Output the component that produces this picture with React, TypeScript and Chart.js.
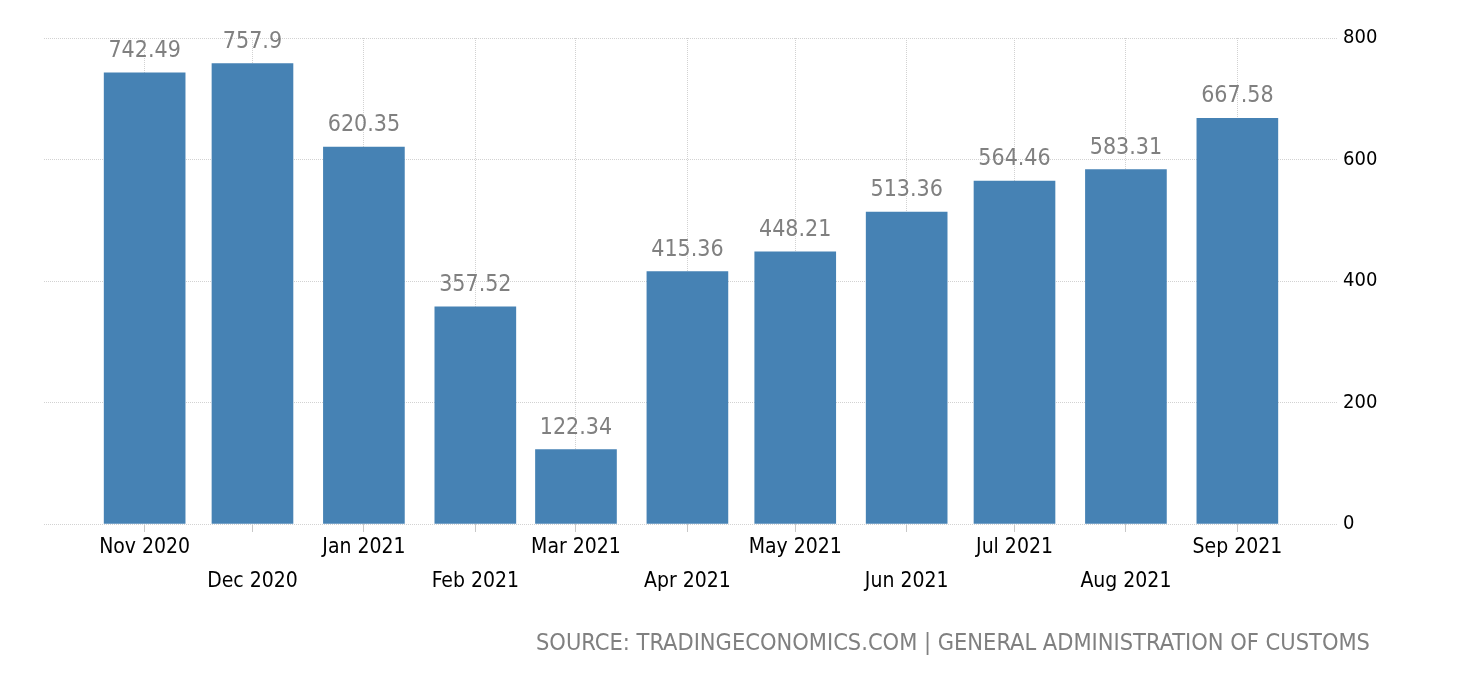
import React, { useEffect, useRef } from "react";
import { Chart, registerables } from "chart.js";

Chart.register(...registerables);

const monthDates = [
  "2020-11-01", "2020-12-01", "2021-01-01", "2021-02-01", "2021-03-01", "2021-04-01",
  "2021-05-01", "2021-06-01", "2021-07-01", "2021-08-01", "2021-09-01",
];
const categories = [
  "Nov 2020", "Dec 2020", "Jan 2021", "Feb 2021", "Mar 2021", "Apr 2021",
  "May 2021", "Jun 2021", "Jul 2021", "Aug 2021", "Sep 2021",
];
const values = [742.49, 757.9, 620.35, 357.52, 122.34, 415.36, 448.21, 513.36, 564.46, 583.31, 667.58];
const yTicks = [0, 200, 400, 600, 800];
const sourceText = "SOURCE: TRADINGECONOMICS.COM | GENERAL ADMINISTRATION OF CUSTOMS";

const FONT = "'DejaVu Sans Condensed', 'DejaVu Sans', sans-serif";

const t0 = Date.parse(monthDates[0]);
const dayOf = (s: string) => (Date.parse(s) - t0) / 86400000;
const xs = monthDates.map(dayOf);

const valueLabelPlugin = {
  id: "valueLabels",
  afterDatasetsDraw(chart: any) {
    const ctx = chart.ctx;
    const meta = chart.getDatasetMeta(0);
    ctx.save();
    ctx.font = `23px ${FONT}`;
    ctx.fillStyle = "#808080";
    ctx.textAlign = "center";
    ctx.textBaseline = "alphabetic";
    meta.data.forEach((el: any, i: number) => {
      ctx.fillText(String(values[i]), el.x, el.y - 16);
    });
    ctx.restore();
  },
};

export default function App() {
  const ref = useRef<HTMLCanvasElement | null>(null);
  useEffect(() => {
    if (!ref.current) return;
    const chart = new Chart(ref.current, {
      type: "bar",
      data: {
        datasets: [
          {
            data: xs.map((x, i) => ({ x, y: values[i] })),
            backgroundColor: "#4682B4",
            barThickness: 81,
          },
        ],
      },
      options: {
        animation: false,
        responsive: false,
        maintainAspectRatio: false,
        events: [],
        layout: { padding: { left: 44, top: 38, right: 0, bottom: 0 } },
        plugins: { legend: { display: false }, tooltip: { enabled: false } },
        scales: {
          x: {
            type: "linear",
            min: -28,
            max: 332,
            offset: false,
            grid: {
              offset: false,
              color: "#d2d2d2",
              drawTicks: true,
              tickLength: 8,
              tickColor: "#c8c8c8",
              tickBorderDash: [],
            },
            border: { display: false, dash: [1, 1] },
            afterBuildTicks: (axis: any) => {
              axis.ticks = xs.map((v) => ({ value: v }));
            },
            afterFit: (axis: any) => {
              axis.height = 680 - 524;
            },
            ticks: {
              autoSkip: false,
              maxRotation: 0,
              minRotation: 0,
              padding: -1,
              color: "#000",
              font: { family: FONT, size: 21, lineHeight: 34 / 21 },
              callback: (_v: any, i: number) => (i % 2 === 0 ? categories[i] : ["", categories[i]]),
            },
          },
          y: {
            position: "right",
            min: 0,
            max: 800,
            afterBuildTicks: (axis: any) => {
              axis.ticks = yTicks.map((v) => ({ value: v }));
            },
            afterFit: (axis: any) => {
              axis.width = 1460 - 1338;
            },
            grid: { color: "#d2d2d2", drawTicks: false },
            border: { display: false, dash: [1, 1] },
            ticks: {
              padding: 5,
              color: "#000",
              font: { family: FONT, size: 20 },
            },
          },
        },
      } as any,
      plugins: [valueLabelPlugin],
    });
    return () => chart.destroy();
  }, []);

  return (
    <div style={{ position: "fixed", left: 0, top: 0, width: 1460, height: 680, background: "#fff" }}>
      <canvas ref={ref} width={1460} height={680} style={{ width: 1460, height: 680, display: "block" }} />
      <div
        style={{
          position: "absolute",
          left: 0,
          top: 631,
          width: 1370,
          textAlign: "right",
          fontFamily: FONT,
          fontSize: 23.4,
          lineHeight: "23px",
          color: "#808080",
          whiteSpace: "nowrap",
        }}
      >
        {sourceText}
      </div>
    </div>
  );
}
